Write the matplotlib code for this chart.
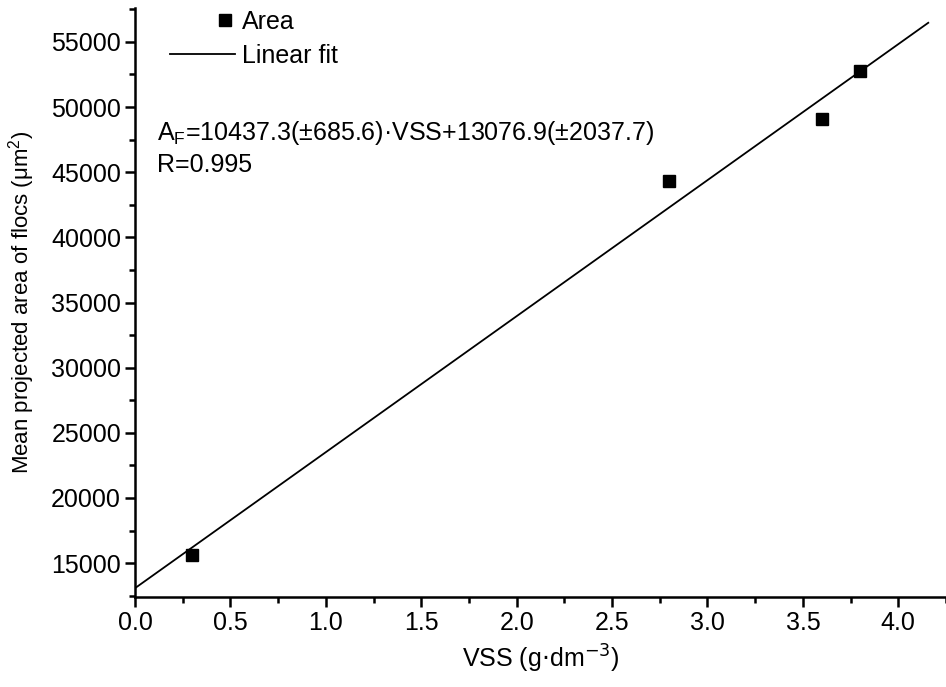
import numpy as np
import matplotlib.pyplot as plt
from matplotlib.ticker import MultipleLocator
from matplotlib.legend_handler import HandlerLine2DCompound

plt.rc("font", family=["Liberation Sans", "DejaVu Sans"], size=18)

# measured points
vss = [0.3, 2.8, 3.6, 3.8]
area = [15650, 44350, 49100, 52770]

# linear fit parameters
slope = 10437.3
intercept = 13076.9
fit_x = np.array([0.0, 4.157])
fit_y = slope * fit_x + intercept


class RightMarker(HandlerLine2DCompound):
    # put the square at the right end of the handle box
    def get_xdata(self, legend, xdescent, ydescent, width, height, fontsize):
        xdata, xm = super().get_xdata(legend, xdescent, ydescent, width, height, fontsize)
        return xdata, np.array([width - xdescent - 0.4 * fontsize])


fig = plt.figure(figsize=(9.46, 6.87), dpi=100)
ax = fig.add_axes([135/946, (687-597)/687, 1 - 135/946, (597-8)/687])

linewidth = 1.8
ax.plot(fit_x, fit_y, 'k-', lw=1.3, label='Linear fit')
pts, = ax.plot(vss, area, 'ks', ms=9, ls='none', label='Area')

ax.set_xlim(0, 4.25)
ax.set_ylim(12400, 57600)
ax.xaxis.set_major_locator(MultipleLocator(0.5))
ax.xaxis.set_minor_locator(MultipleLocator(0.25))
ax.yaxis.set_major_locator(MultipleLocator(5000))
ax.yaxis.set_minor_locator(MultipleLocator(2500))
ax.xaxis.set_major_formatter(plt.FormatStrFormatter('%.1f'))

for s in ["top", "right"]:
    ax.spines[s].set_visible(False)
for s in ["left", "bottom"]:
    ax.spines[s].set_linewidth(linewidth)
ax.tick_params(axis="both", which="major", direction="out", length=7, width=linewidth, pad=3)
ax.tick_params(axis="both", which="minor", direction="out", length=4, width=linewidth)

ax.set_xlabel('VSS (g$\\cdot$dm$^{-3}$)', labelpad=6)
ax.set_ylabel('Mean projected area of flocs ($\\mathregular{\\mu m^2}$)', fontsize=16, labelpad=10)

handles, labels = ax.get_legend_handles_labels()
ax.legend(handles[::-1], labels[::-1], loc='upper left', bbox_to_anchor=(0.015, 1.035),
          frameon=False, handlelength=2.6, handletextpad=0.3, labelspacing=0.4,
          handler_map={pts: RightMarker()})

ax.text(0.027, 0.787, 'A$_\\mathregular{F}$=10437.3(±685.6)·VSS+13076.9(±2037.7)',
        transform=ax.transAxes, va='center', ha='left')
ax.text(0.027, 0.733, 'R=0.995', transform=ax.transAxes, va='center', ha='left')

plt.savefig('out.png', dpi=100)
